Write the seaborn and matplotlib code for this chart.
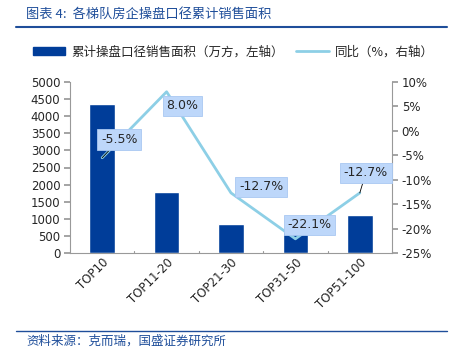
import matplotlib
matplotlib.use("Agg")
import matplotlib.pyplot as plt
import seaborn as sns
import pandas as pd
from matplotlib.patches import Patch
from matplotlib.lines import Line2D
from matplotlib.ticker import FuncFormatter

categories = ["TOP10", "TOP11-20", "TOP21-30", "TOP31-50", "TOP51-100"]
area = [4350, 1780, 850, 610, 1110]
yoy = [-5.5, 8.0, -12.7, -22.1, -12.7]
yoy_labels = ["-5.5%", "8.0%", "-12.7%", "-22.1%", "-12.7%"]

sns.set_theme(style="white")
plt.rcParams['font.family'] = ['DejaVu Sans', 'Noto Sans CJK SC']
cjk = ['Noto Sans CJK SC', 'DejaVu Sans']

bar_color = "#003D99"
line_color = "#8DCFE6"
title_color = "#1F4E9A"

df = pd.DataFrame({"cat": categories, "area": area, "yoy": yoy})

fig = plt.figure(figsize=(4.49, 3.63), dpi=100)
ax = fig.add_axes([70/449, 1-253/363, (392-70)/449, (253-82)/363])
sns.barplot(data=df, x="cat", y="area", color=bar_color, width=0.4, ax=ax,
            saturation=1)
ax.set_ylim(0, 5000)
ax.set_yticks(range(0, 5001, 500))
ax.set_xlim(-0.5, 4.5)
ax.set_xlabel("")
ax.set_ylabel("")
for s in ["top", "right"]:
    ax.spines[s].set_visible(False)
for s in ["left", "bottom"]:
    ax.spines[s].set_color("#999999")
    ax.spines[s].set_linewidth(0.8)
ax.tick_params(axis="y", length=4, color="#999999", labelsize=8.5, direction="out", left=True, pad=3)
ax.tick_params(axis="x", length=0, labelsize=8.5, pad=2)
ax.set_xticks(range(5))
ax.set_xticklabels(categories, rotation=45, ha="right", rotation_mode="anchor")
for xb in [0.5, 1.5, 2.5, 3.5, 4.5]:
    ax.plot([xb, xb], [0, 60], color="#999999", lw=0.8, clip_on=False)

ax2 = ax.twinx()
sns.lineplot(data=df, x="cat", y="yoy", color=line_color, lw=2, ax=ax2, sort=False)
ax2.set_ylim(-25, 10)
ax2.set_yticks(range(-25, 11, 5))
ax2.yaxis.set_major_formatter(FuncFormatter(lambda v, p: f"{int(v)}%"))
ax2.set_ylabel("")
ax2.set_xlabel("")
for s in ["top", "left", "bottom"]:
    ax2.spines[s].set_visible(False)
ax2.spines["right"].set_color("#999999")
ax2.spines["right"].set_linewidth(0.8)
ax2.tick_params(axis="y", length=4, color="#999999", labelsize=8.5, direction="out", right=True, pad=3)

offsets = [(17, 18), (16, -14), (30, 6), (14, 14), (6, 20)]
leader = [True, False, False, False, True]
for i, (v, lab) in enumerate(zip(yoy, yoy_labels)):
    kw = {}
    if leader[i]:
        kw["arrowprops"] = dict(arrowstyle="-", color="black", lw=0.6, shrinkA=0, shrinkB=0)
    ax2.annotate(lab, xy=(i, v), xytext=offsets[i], textcoords="offset pixels",
                 ha="center", va="center", fontsize=9,
                 bbox=dict(boxstyle="square,pad=0.3", fc="#BDD7FA", ec="#A9C8F2", lw=0.6),
                 **kw)

handles = [Patch(facecolor=bar_color, edgecolor=bar_color),
           Line2D([0], [0], color=line_color, lw=2)]
labels = ["累计操盘口径销售面积（万方，左轴）", "同比（%，右轴）"]
fig.legend(handles, labels, loc="center", bbox_to_anchor=(0.52, 1-52/363), ncol=2,
           frameon=False, prop={"family": cjk, "size": 9}, handlelength=2.6,
           handleheight=0.6, columnspacing=1.0, handletextpad=0.5)

fig.text(26/449, 1-14/363, "图表 4:  各梯队房企操盘口径累计销售面积", family=cjk, fontsize=9.5,
         color=title_color, ha="left", va="center", style="italic")
fig.add_artist(Line2D([16/449, 447/449], [1-27/363, 1-27/363], color=title_color, lw=1.5))
fig.add_artist(Line2D([16/449, 447/449], [1-331/363, 1-331/363], color=title_color, lw=1.0))
fig.text(26/449, 1-341/363, "资料来源：克而瑞，国盛证券研究所", family=cjk, fontsize=9,
         color=title_color, ha="left", va="center", style="italic")

fig.savefig("out.png", dpi=100)
